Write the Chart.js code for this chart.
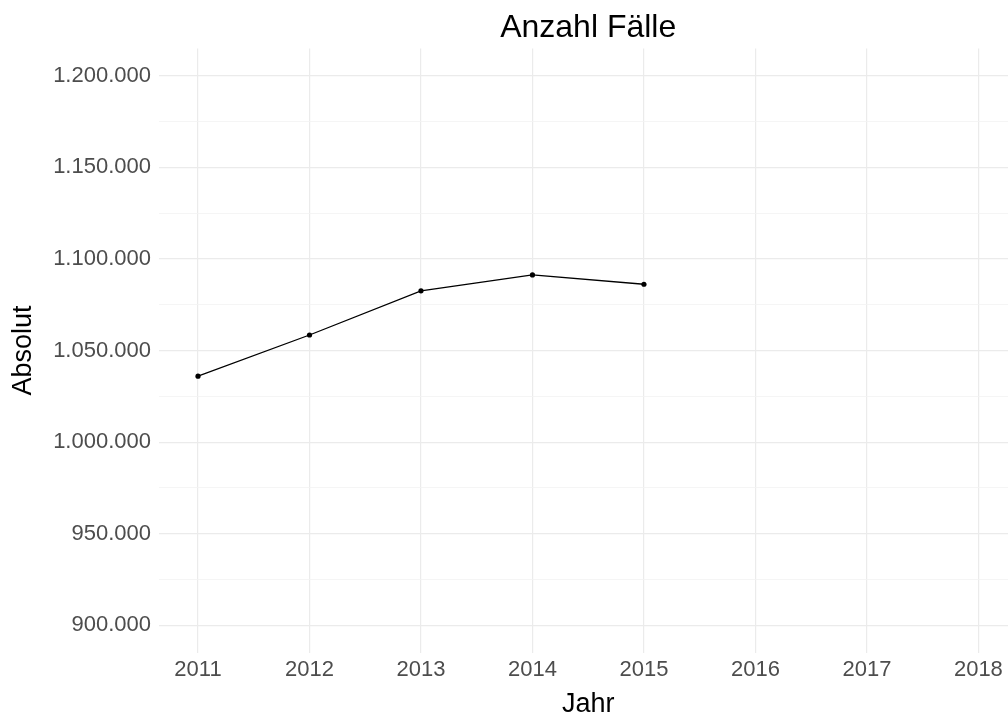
<!DOCTYPE html>
<html>
<head>
<meta charset="utf-8">
<script src="https://cdn.jsdelivr.net/npm/chart.js@4/dist/chart.umd.min.js"></script>
<style>
  html, body { margin: 0; padding: 0; background: #fff; overflow: hidden; }
  #wrap { position: relative; width: 1020px; height: 714px; }
</style>
</head>
<body>
<div id="wrap"><canvas id="chart"></canvas></div>
<script>
// ─── Data ───────────────────────────────────────────
const YEARS = [2011, 2012, 2013, 2014, 2015];
const FAELLE = [1036000, 1058500, 1082600, 1091300, 1086200];
const X_TICKS = [2011, 2012, 2013, 2014, 2015, 2016, 2017, 2018];
const Y_TICKS = [900000, 950000, 1000000, 1050000, 1100000, 1150000, 1200000];
const Y_MINOR = [925000, 975000, 1025000, 1075000, 1125000, 1175000];

// ─── Helpers ────────────────────────────────────────
const FONT = '"Liberation Sans", Arial, sans-serif';
function fmtDE(v) { return String(Math.round(v)).replace(/\B(?=(\d{3})+(?!\d))/g, '.'); }
const isMajor = v => Y_TICKS.includes(v);

const points = YEARS.map((y, i) => ({ x: y, y: FAELLE[i] }));
const allY = [...Y_TICKS, ...Y_MINOR].sort((a, b) => a - b);

// ─── Chart ──────────────────────────────────────────
new Chart(document.getElementById('chart'), {
  type: 'line',
  data: {
    datasets: [{
      label: 'Anzahl Fälle',
      data: points,
      borderColor: '#000',
      backgroundColor: '#000',
      borderWidth: 1.3,
      pointRadius: 2.6,
      pointHoverRadius: 2.6,
      pointBorderWidth: 0,
      tension: 0
    }]
  },
  options: {
    responsive: true,
    maintainAspectRatio: false,
    animation: false,
    devicePixelRatio: 1,
    layout: { padding: { left: 0, right: 1, top: 0, bottom: 0 } },
    plugins: {
      legend: { display: false },
      tooltip: { enabled: false },
      title: {
        display: true,
        text: 'Anzahl Fälle',
        fullSize: false,
        color: '#000',
        font: { family: FONT, size: 32, weight: 'normal' },
        padding: { top: 9, bottom: 1 }
      }
    },
    scales: {
      x: {
        type: 'linear',
        min: 2010.65,
        max: 2018.35,
        afterBuildTicks: s => { s.ticks = X_TICKS.map(v => ({ value: v })); },
        ticks: {
          autoSkip: false,
          maxRotation: 0,
          padding: 4,
          color: '#4d4d4d',
          font: { family: FONT, size: 22 },
          callback: v => String(v)
        },
        grid: { color: '#ebebeb', lineWidth: 1.2, drawTicks: false },
        border: { display: false },
        title: {
          display: true,
          text: 'Jahr',
          color: '#000',
          font: { family: FONT, size: 27, lineHeight: 0.7 },
          padding: { top: 8, bottom: 0 }
        }
      },
      y: {
        type: 'linear',
        min: 885000,
        max: 1215000,
        afterBuildTicks: s => { s.ticks = allY.map(v => ({ value: v })); },
        afterFit: s => { s.width = 159; },
        ticks: {
          autoSkip: false,
          padding: 8,
          color: '#4d4d4d',
          font: { family: FONT, size: 22 },
          callback: v => isMajor(v) ? fmtDE(v) : ''
        },
        grid: {
          drawTicks: false,
          color: c => isMajor(c.tick.value) ? '#ebebeb' : '#f3f3f3',
          lineWidth: c => isMajor(c.tick.value) ? 1.2 : 0.8
        },
        border: { display: false },
        title: {
          display: true,
          text: 'Absolut',
          color: '#000',
          font: { family: FONT, size: 27 },
          padding: { top: 7, bottom: 0 }
        }
      }
    }
  }
});
</script>
</body>
</html>
